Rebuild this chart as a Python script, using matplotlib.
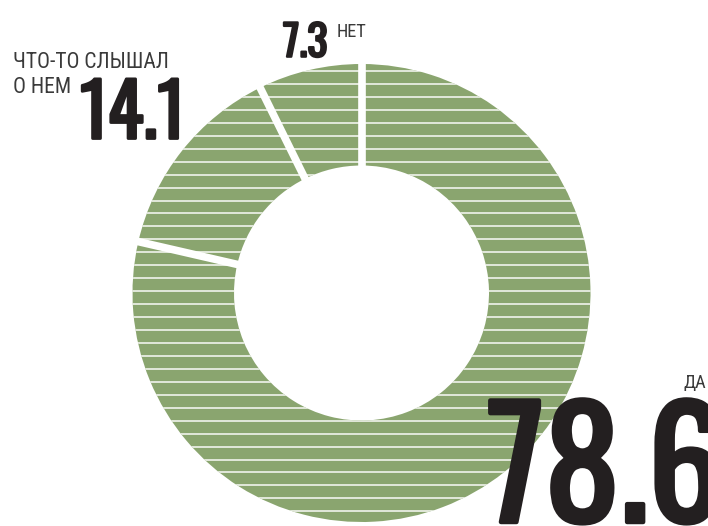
import numpy as np
import matplotlib
matplotlib.use("Agg")
import matplotlib.pyplot as plt
import matplotlib.patheffects as pe
from matplotlib.collections import LineCollection

# ---- data ----
labels = ["ДА", "ЧТО-ТО СЛЫШАЛ\nО НЕМ", "НЕТ"]
values = [78.6, 14.1, 7.3]
value_labels = ["78.6", "14.1", "7.3"]

GREEN = "#8AA56F"
DARK = "#231F20"
GREY = "#3a3a3a"

W, H = 708, 526
fig = plt.figure(figsize=(W / 100, H / 100), dpi=100)
ax = fig.add_axes([0, 0, 1, 1])

cx, cy = 361.5, H - 293
R = 229
ring_w = 101.5

wedges, _ = ax.pie(values, radius=R, center=(cx, cy), startangle=90,
                   counterclock=False, colors=[GREEN] * len(values),
                   wedgeprops=dict(width=ring_w, linewidth=0))
ax.set_xlim(0, W)
ax.set_ylim(0, H)
ax.set_aspect("auto")
ax.axis("off")

# horizontal white stripes clipped to each wedge
ys = H - np.arange(58.1, 526, 12.95)
for wdg in wedges:
    segs = [[(cx - R - 5, y), (cx + R + 5, y)] for y in ys]
    lc = LineCollection(segs, colors="white", linewidths=1.1, alpha=0.95)
    ax.add_collection(lc)
    lc.set_clip_path(wdg)

# white radial gaps between wedges
for wdg in wedges:
    th = np.deg2rad(wdg.theta2)
    ax.plot([cx, cx + (R + 6) * np.cos(th)], [cy, cy + (R + 6) * np.sin(th)],
            color="white", lw=5.5, solid_capstyle="butt", zorder=5)

big = ["Oswald", "Roboto Condensed", "DejaVu Sans"]
small = ["Roboto Condensed", "DejaVu Sans"]

# ДА
ax.text(487, H - 522, value_labels[0], fontsize=108, fontweight="bold",
        family=big, color=DARK, ha="left", va="baseline", zorder=10,
        path_effects=[pe.withStroke(linewidth=3.2, foreground=DARK)])
ax.text(683, H - 388, labels[0], fontsize=13.2, family=small, color=GREY,
        ha="left", va="baseline", zorder=10)

# ЧТО-ТО СЛЫШАЛ О НЕМ
l1, l2 = labels[1].split("\n")
ax.text(13, H - 68.5, l1, fontsize=15.5, family=small, color=GREY,
        ha="left", va="baseline", zorder=10)
ax.text(13, H - 93, l2, fontsize=15.5, family=small, color=GREY,
        ha="left", va="baseline", zorder=10)
ax.text(80, H - 138.5, value_labels[1], fontsize=53, fontweight="bold",
        family=big, color=DARK, ha="left", va="baseline", zorder=10,
        path_effects=[pe.withStroke(linewidth=2, foreground=DARK)])

# НЕТ
ax.text(283, H - 56.7, value_labels[2], fontsize=30.5, fontweight="bold",
        family=big, color=DARK, ha="left", va="baseline", zorder=10,
        path_effects=[pe.withStroke(linewidth=1.6, foreground=DARK)])
ax.text(337, H - 36.7, labels[2], fontsize=13.2, family=small, color=GREY,
        ha="left", va="baseline", zorder=10)

fig.savefig("out.png", dpi=100)
